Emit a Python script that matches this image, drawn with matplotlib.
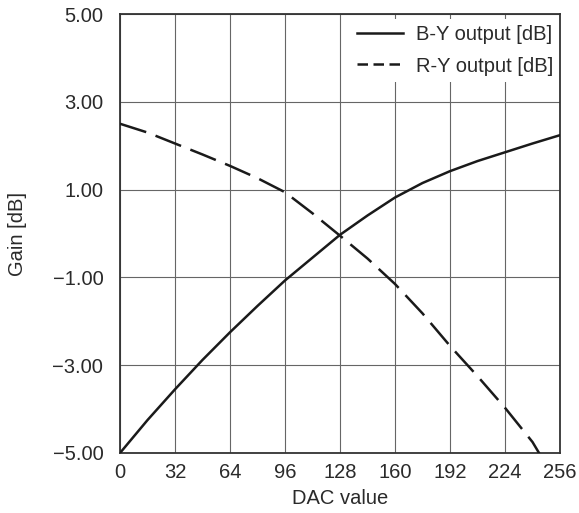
import matplotlib
matplotlib.use("Agg")
import matplotlib.pyplot as plt
import numpy as np

plt.rcParams['font.family'] = ['Liberation Sans', 'DejaVu Sans']

dac = [0, 16, 32, 48, 64, 80, 96, 112, 128, 144, 160, 176, 192, 208, 224, 240, 256]
by_gain = [-5.0, -4.25, -3.55, -2.88, -2.25, -1.65, -1.07, -0.55, -0.03, 0.41, 0.82, 1.15, 1.42, 1.65, 1.85, 2.05, 2.24]
ry_gain = [2.5, 2.3, 2.05, 1.8, 1.54, 1.26, 0.94, 0.46, -0.05, -0.57, -1.15, -1.82, -2.56, -3.25, -3.97, -4.75, -5.8]

x_ticks = [0, 32, 64, 96, 128, 160, 192, 224, 256]
y_ticks = [-5, -3, -1, 1, 3, 5]
y_labels = ['\u22125.00', '\u22123.00', '\u22121.00', '1.00', '3.00', '5.00']

fig = plt.figure(figsize=(5.79, 5.13), dpi=100)
ax = fig.add_axes([120/579, 60/513, 440/579, 439/513])

ax.plot(dac, by_gain, color='#1a1a1a', lw=1.8, label='B-Y output [dB]', zorder=3)
ax.plot(dac, ry_gain, color='#1a1a1a', lw=1.8, ls=(0, (11, 4)), label='R-Y output [dB]', zorder=3)

ax.set_xlim(0, 256)
ax.set_ylim(-5, 5)
ax.set_xticks(x_ticks)
ax.set_yticks(y_ticks)
ax.set_yticklabels(y_labels)
ax.tick_params(length=0, labelsize=14.5, colors='#2a2a2a')
ax.tick_params(axis='y', pad=12)
ax.tick_params(axis='x', pad=7)
ax.grid(True, color='#666666', lw=0.8)
for s in ax.spines.values():
    s.set_color('#333333')
    s.set_linewidth(1.3)

ax.set_xlabel('DAC value', fontsize=14.5, color='#2a2a2a', labelpad=5)
ax.set_ylabel('Gain [dB]', fontsize=14.5, color='#2a2a2a', labelpad=18)

leg = ax.legend(loc='upper right', bbox_to_anchor=(1.0, 0.99), fontsize=14.5,
                frameon=True, fancybox=False,
                framealpha=1, edgecolor='none', handlelength=2.25,
                borderaxespad=0.05, borderpad=0.3, labelspacing=0.6,
                handletextpad=0.65)
for t in leg.get_texts():
    t.set_color('#2a2a2a')
leg.legend_handles[1].set_linestyle((0, (4.2, 2.2)))
leg.set_zorder(5)

fig.savefig('out.png', dpi=100)
